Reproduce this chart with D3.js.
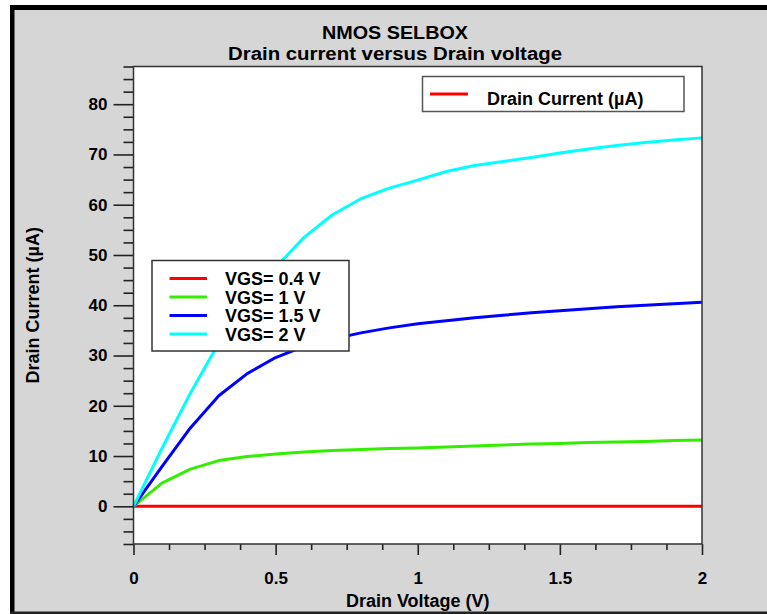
<!DOCTYPE html>
<html>
<head>
<meta charset="utf-8">
<script src="https://cdn.jsdelivr.net/npm/d3@7/dist/d3.min.js"></script>
<style>
  html, body { margin: 0; padding: 0; background: #ffffff; }
  svg { display: block; }
  text { font-family: "Liberation Sans", Arial, Helvetica, sans-serif; font-weight: bold; fill: #000; }
</style>
</head>
<body>
<svg id="chart" width="767" height="614"></svg>
<script>
// Drain voltage sweep (V)
const drainVoltage = [0, 0.1, 0.2, 0.3, 0.4, 0.5, 0.6, 0.7, 0.8, 0.9, 1.0,
                      1.1, 1.2, 1.3, 1.4, 1.5, 1.6, 1.7, 1.8, 1.9, 2.0];

// Drain current (µA) for each gate voltage
const idVgs04 = [0, 0, 0, 0, 0, 0, 0, 0, 0, 0, 0,
                 0, 0, 0, 0, 0, 0, 0, 0, 0, 0];
const idVgs1  = [0, 4.6, 7.4, 9.1, 9.9, 10.4, 10.8, 11.1, 11.3, 11.5, 11.6,
                 11.8, 12.0, 12.2, 12.4, 12.5, 12.7, 12.8, 12.9, 13.1, 13.2];
const idVgs15 = [0, 7.9, 15.6, 22.0, 26.4, 29.6, 31.8, 33.3, 34.5, 35.5, 36.3,
                 36.9, 37.5, 38.0, 38.5, 38.9, 39.3, 39.7, 40.0, 40.3, 40.6];
const idVgs2  = [0, 11.5, 22.5, 32.5, 41.0, 47.5, 53.5, 58.0, 61.2, 63.3, 64.9,
                 66.6, 67.8, 68.6, 69.4, 70.3, 71.1, 71.8, 72.4, 72.9, 73.3];

const seriesNames  = ["VGS= 0.4 V", "VGS= 1 V", "VGS= 1.5 V", "VGS= 2 V"];
const seriesColors = ["#ff0000", "#33ee00", "#0000ff", "#00ffff"];
const seriesValues = [idVgs04, idVgs1, idVgs15, idVgs2];

const xMajorTicks = [0, 0.5, 1, 1.5, 2];
const yMajorTicks = [0, 10, 20, 30, 40, 50, 60, 70, 80];

const titleLines = ["NMOS SELBOX", "Drain current versus Drain voltage"];
const xLabel = "Drain Voltage (V)";
const yLabel = "Drain Current (µA)";
const topLegendLabel = "Drain Current (µA)";

const svg = d3.select("#chart");
const W = 767, H = 614;

// window frame
svg.append("rect").attr("x", 10).attr("y", 5).attr("width", W - 10).attr("height", H - 5).attr("fill", "#d6d6d6");
svg.append("rect").attr("x", 10).attr("y", 5).attr("width", W - 10).attr("height", 5).attr("fill", "#000");
svg.append("rect").attr("x", 10).attr("y", 5).attr("width", 4.5).attr("height", H - 5).attr("fill", "#000");
svg.append("rect").attr("x", 10).attr("y", 611.5).attr("width", W - 10).attr("height", 2.5).attr("fill", "#222");

const plot = { left: 133.5, right: 702, top: 66.5, bottom: 544 };

const x = d3.scaleLinear().domain([0, 2]).range([plot.left, plot.right]);
const y = d3.scaleLinear().domain([-7.5, 87.5]).range([plot.bottom, plot.top]);

// plot background
svg.append("rect")
  .attr("x", plot.left).attr("y", plot.top)
  .attr("width", plot.right - plot.left).attr("height", plot.bottom - plot.top)
  .attr("fill", "#ffffff");

// minor ticks
const yMinor = d3.range(-7.5, 87.5 + 0.001, 2.5).filter(v => !yMajorTicks.includes(v));
const xMinor = d3.range(0, 2 + 0.001, 0.125).filter(v => !xMajorTicks.some(m => Math.abs(m - v) < 1e-6));

const yAxisMinor = d3.axisLeft(y).tickValues(yMinor).tickSize(10).tickFormat("");
const yAxisMajor = d3.axisLeft(y).tickValues(yMajorTicks).tickSize(20).tickPadding(6).tickFormat(d3.format("d"));
const xAxisMinor = d3.axisBottom(x).tickValues(xMinor).tickSize(6).tickFormat("");
const xAxisMajor = d3.axisBottom(x).tickValues(xMajorTicks).tickSize(11).tickPadding(17).tickFormat(d => String(d));

function styleAxis(g) {
  g.select(".domain").remove();
  g.selectAll(".tick line").attr("stroke", "#222").attr("stroke-width", 1.6);
  g.selectAll(".tick text").attr("font-size", 17).attr("font-family", "Liberation Sans, Arial, sans-serif").attr("font-weight", "bold").attr("fill", "#000");
}

svg.append("g").attr("transform", `translate(${plot.left},0)`).call(yAxisMinor).call(styleAxis);
svg.append("g").attr("transform", `translate(${plot.left},0)`).call(yAxisMajor).call(styleAxis);
svg.append("g").attr("transform", `translate(0,${plot.bottom})`).call(xAxisMinor).call(styleAxis);
svg.append("g").attr("transform", `translate(0,${plot.bottom})`).call(xAxisMajor).call(styleAxis);

// curves
const line = d3.line().x((d, i) => x(drainVoltage[i])).y(d => y(d));
seriesValues.forEach((vals, k) => {
  svg.append("path")
    .datum(vals)
    .attr("d", line)
    .attr("fill", "none")
    .attr("stroke", seriesColors[k])
    .attr("stroke-width", 3)
    .attr("stroke-linejoin", "round");
});

// plot border
svg.append("rect")
  .attr("x", plot.left).attr("y", plot.top)
  .attr("width", plot.right - plot.left).attr("height", plot.bottom - plot.top)
  .attr("fill", "none").attr("stroke", "#333").attr("stroke-width", 1.5);

// title (slightly wide lettering)
svg.append("text").attr("x", 395).attr("y", 39)
  .attr("text-anchor", "middle").attr("font-size", 18)
  .attr("textLength", 146).attr("lengthAdjust", "spacingAndGlyphs").text(titleLines[0]);
svg.append("text").attr("x", 395).attr("y", 60)
  .attr("text-anchor", "middle").attr("font-size", 18)
  .attr("textLength", 334).attr("lengthAdjust", "spacingAndGlyphs").text(titleLines[1]);

// axis labels
svg.append("text").attr("x", (plot.left + plot.right) / 2).attr("y", 607)
  .attr("text-anchor", "middle").attr("font-size", 18).text(xLabel);
svg.append("text")
  .attr("transform", `translate(39,${(plot.top + plot.bottom) / 2}) rotate(-90)`)
  .attr("text-anchor", "middle").attr("font-size", 18).text(yLabel);

// top-right legend
const lg1 = svg.append("g");
lg1.append("rect").attr("x", 422.5).attr("y", 76.5).attr("width", 261.5).attr("height", 35)
  .attr("fill", "#fff").attr("stroke", "#555").attr("stroke-width", 1.5);
lg1.append("line").attr("x1", 430).attr("x2", 468).attr("y1", 94).attr("y2", 94)
  .attr("stroke", "#ff0000").attr("stroke-width", 3);
lg1.append("text").attr("x", 487).attr("y", 104.5).attr("font-size", 18).text(topLegendLabel);

// series legend
const lg2 = svg.append("g");
lg2.append("rect").attr("x", 152).attr("y", 260.5).attr("width", 197).attr("height", 90.5)
  .attr("fill", "#fff").attr("stroke", "#333").attr("stroke-width", 1.5);
const rowY = [278.5, 297, 315.5, 334];
seriesNames.forEach((name, k) => {
  lg2.append("line").attr("x1", 169.5).attr("x2", 207).attr("y1", rowY[k]).attr("y2", rowY[k])
    .attr("stroke", seriesColors[k]).attr("stroke-width", 3);
  lg2.append("text").attr("x", 225).attr("y", rowY[k] + 6.5).attr("font-size", 18).text(name);
});
</script>
</body>
</html>
